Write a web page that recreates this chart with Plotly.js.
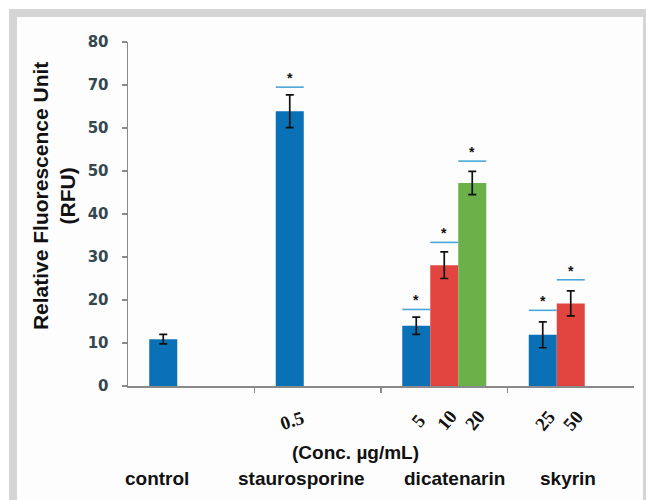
<!DOCTYPE html>
<html>
<head>
<meta charset="utf-8">
<script src="https://cdn.plot.ly/plotly-3.0.1.min.js"></script>
<style>
  html, body { margin: 0; padding: 0; background: #ffffff; }
  #frame { position: absolute; left: 9px; top: 9px; width: 637px; height: 491px; background: #d5d5d5; }
  #panel { position: absolute; left: 17px; top: 17px; width: 626px; height: 483px; background: #fdfdfd; }
  #chart { position: absolute; left: 0; top: 0; width: 646px; height: 500px; }
</style>
</head>
<body>
<div id="frame"></div>
<div id="panel"></div>
<div id="chart"></div>
<script>
// ---- data ----
const categories = ['control', 'staurosporine', 'dicatenarin', 'skyrin'];

const blueValues  = [10.9, 63.9, 14.0, 11.9];
const blueErrors  = [1.1, 3.8, 2.0, 3.0];
const blueConc    = ['', '0.5', '5', '25'];
const blueSig     = [null, 69.5, 17.8, 17.6];

const redValues   = [null, null, 28.1, 19.2];
const redErrors   = [null, null, 3.1, 2.9];
const redConc     = ['', '', '10', '50'];
const redSig      = [null, null, 33.4, 24.7];

const greenValues = [null, null, 47.2, null];
const greenErrors = [null, null, 2.7, null];
const greenConc   = ['', '', '20', ''];
const greenSig    = [null, null, 52.3, null];

const yTickVals = [0, 10, 20, 30, 40, 50, 60, 70, 80];
const yTickText = ['0', '10', '20', '30', '40', '50', '50', '70', '80'];

const yTitle = 'Relative Fluorescence Unit<br>(RFU)';
const concTitle = '(Conc. µg/mL)';

// ---- layout / style ----
const colors = ['#0b71b6', '#e2453f', '#6cb04a'];
const sigColor = '#4aa6da';
const bargap = 0.336;
const groupW = 1 - bargap;
const barW = groupW / 3;
const series = [
  {v: blueValues, e: blueErrors, c: blueConc, s: blueSig},
  {v: redValues, e: redErrors, c: redConc, s: redSig},
  {v: greenValues, e: greenErrors, c: greenConc, s: greenSig}
];
const pos = (i, j) => i - groupW / 2 + barW * (j + 0.5);

const traces = [];
const annotations = [];
const concAngles = [-50, -18, -50, -50];
const groupShift = [-34, -16, 10, -3];

series.forEach((sr, j) => {
  const xs = categories.map((_, i) => pos(i, j));
  traces.push({
    type: 'bar', x: xs, y: sr.v, width: barW,
    marker: {color: colors[j], line: {width: 0}},
    error_y: {type: 'data', array: sr.e, visible: true, color: '#111111', thickness: 1.7, width: 4},
    hoverinfo: 'skip', showlegend: false
  });
  const lx = [], ly = [];
  sr.s.forEach((val, i) => {
    if (val !== null) {
      lx.push(xs[i] - barW / 2, xs[i] + barW / 2, null);
      ly.push(val, val, null);
      annotations.push({x: xs[i], y: val, xref: 'x', yref: 'y', text: '*', showarrow: false,
        yshift: 9, font: {family: 'Liberation Sans', size: 14, color: '#111', weight: 'bold'}});
    }
  });
  traces.push({type: 'scatter', mode: 'lines', x: lx, y: ly,
    line: {color: sigColor, width: 1.6}, hoverinfo: 'skip', showlegend: false});
  sr.c.forEach((t, i) => {
    if (t) annotations.push({x: xs[i], y: 0, xref: 'x', yref: 'y', text: t, showarrow: false,
      textangle: concAngles[i], xshift: 2, yshift: -34, xanchor: 'center', yanchor: 'middle',
      font: {family: 'Liberation Serif', size: 19, color: '#111', weight: 'bold'}});
  });
});

categories.forEach((c, i) => {
  annotations.push({x: i, y: 0, xref: 'x', yref: 'y', text: c, showarrow: false,
    xshift: groupShift[i], yshift: -92, xanchor: 'center', yanchor: 'middle',
    font: {family: 'Liberation Sans', size: 19, color: '#111', weight: 'bold'}});
});
annotations.push({x: 0.449, y: 0, xref: 'paper', yref: 'y', text: concTitle, showarrow: false,
  yshift: -66, xanchor: 'center', yanchor: 'middle',
  font: {family: 'Liberation Sans', size: 19, color: '#111', weight: 'bold'}});
annotations.push({x: 0, y: 0.552, xref: 'paper', yref: 'paper', text: yTitle, showarrow: false,
  textangle: -90, xshift: -74, xanchor: 'center', yanchor: 'middle',
  font: {family: 'Liberation Sans', size: 21, color: '#111', weight: 'bold'}});

const boundaries = categories.slice(1).map((_, i) => i + 0.5);

const layout = {
  width: 646, height: 500,
  margin: {l: 128, r: 12, t: 42, b: 114},
  paper_bgcolor: 'rgba(0,0,0,0)', plot_bgcolor: 'rgba(0,0,0,0)',
  barmode: 'overlay',
  xaxis: {range: [-0.5, categories.length - 0.5], showgrid: false, zeroline: false,
    showline: true, linecolor: '#8a8a8a', linewidth: 1.5,
    tickvals: boundaries, ticktext: boundaries.map(() => ''), ticks: 'outside', ticklen: 5,
    tickcolor: '#8a8a8a', tickwidth: 1.2, fixedrange: true},
  yaxis: {range: [0, 80], showgrid: false, zeroline: false,
    showline: true, linecolor: '#8a8a8a', linewidth: 1.5,
    tickvals: yTickVals, ticktext: yTickText, ticks: 'outside', ticklen: 5,
    tickcolor: '#8a8a8a', tickwidth: 1.2, ticklabelstandoff: 10,
    tickfont: {family: 'DejaVu Sans', size: 15, color: '#34474f', weight: 'bold'}, fixedrange: true},
  annotations: annotations
};

Plotly.newPlot('chart', traces, layout, {staticPlot: true, displayModeBar: false});
</script>
</body>
</html>
